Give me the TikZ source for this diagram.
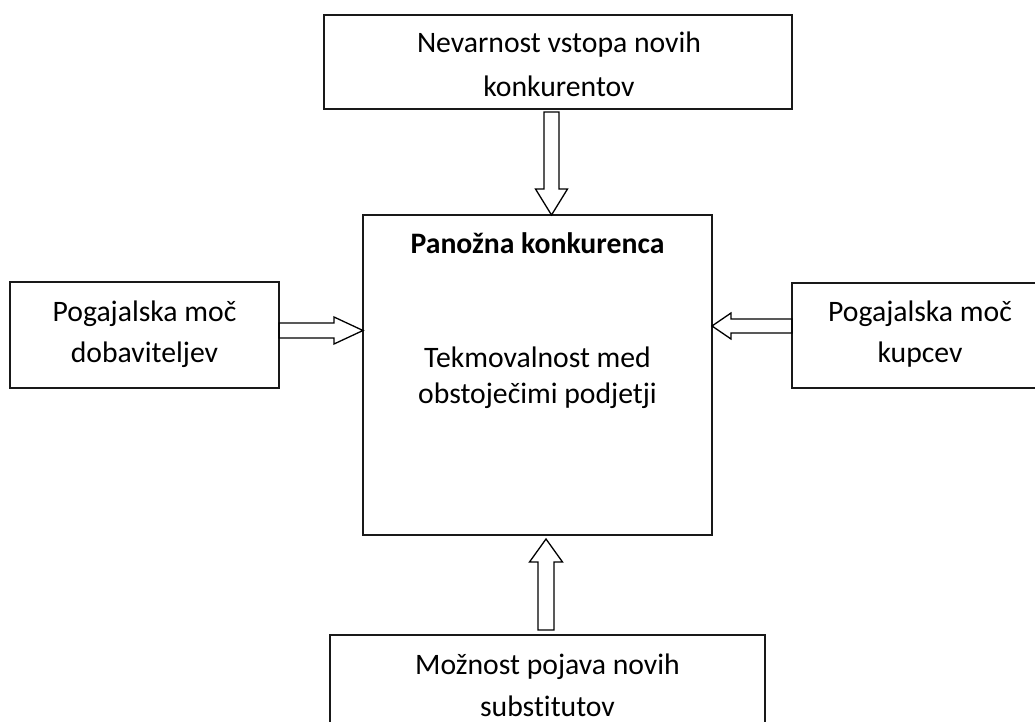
\documentclass[tikz,border=0pt]{standalone}
\usepackage{fontspec}
\setmainfont{Carlito}[Ligatures=NoCommon]
\usetikzlibrary{calc}
\tikzset{
  box/.style={draw=black!90, line width=1.6pt, rectangle, outer sep=0pt, inner sep=0pt},
  txt/.style={anchor=base, inner sep=0pt, font=\fontsize{29.7}{35}\selectfont},
  btxt/.style={anchor=base, inner sep=0pt, font=\fontsize{29.7}{35}\selectfont\bfseries},
  blockarrow/.style n args={3}{draw=black, line width=1.3pt, line join=miter, to path={
    ($(\tikztostart)!#1!90:(\tikztotarget)$)
    -- ($(\tikztotarget)!#3!(\tikztostart)!#1!-90:(\tikztostart)$)
    -- ($(\tikztotarget)!#3!(\tikztostart)!#2!-90:(\tikztostart)$)
    -- (\tikztotarget)
    -- ($(\tikztotarget)!#3!(\tikztostart)!#2!90:(\tikztostart)$)
    -- ($(\tikztotarget)!#3!(\tikztostart)!#1!90:(\tikztostart)$)
    -- ($(\tikztostart)!#1!-90:(\tikztotarget)$)
    -- cycle}}
}
\begin{document}
\begin{tikzpicture}[x=1pt, y=-1pt]
\useasboundingbox (0,0) rectangle (1035,722);
\clip (0,0) rectangle (1035,722);
\fill[white] (0,0) rectangle (1035,722);

% boxes
\node[box, minimum width=468pt, minimum height=94pt] (top) at (558,62) {};
\node[box, minimum width=349pt, minimum height=320pt] (center) at (537.5,375) {};
\node[box, minimum width=269pt, minimum height=106pt] (left) at (144.5,335) {};
\node[box, minimum width=256pt, minimum height=105pt] (right) at (920,335.5) {};
\node[box, minimum width=435pt, minimum height=94pt] (bottom) at (547.5,682) {};

% texts
\node[txt] (top1) at (559,53) {Nevarnost vstopa novih};
\node[txt] (top2) at (559,97) {konkurentov};
\node[btxt] (c0) at (537.5,253) {Panožna konkurenca};
\node[txt] (c1) at (537.5,367) {Tekmovalnost med};
\node[txt] (c2) at (537.5,403) {obstoječimi podjetji};
\node[txt] (l1) at (144.5,321) {Pogajalska moč};
\node[txt] (l2) at (144.5,362) {dobaviteljev};
\node[txt] (r1) at (920,321) {Pogajalska moč};
\node[txt] (r2) at (920,362) {kupcev};
\node[txt] (b1) at (547.5,674) {Možnost pojava novih};
\node[txt] (b2) at (547.5,716) {substitutov};

% block arrows
\draw[blockarrow={7.5pt}{16pt}{26pt}] ([xshift=-6.5pt,yshift=-3pt]top.south) to ([xshift=14pt]center.north);
\draw[blockarrow={7.5pt}{13.5pt}{29pt}] ([yshift=4.5pt]left.east) to ([yshift=44.5pt]center.west);
\draw[blockarrow={7pt}{13pt}{19pt}] ([yshift=9.5pt]right.west) to ([yshift=49pt]center.east);
\draw[blockarrow={8pt}{16.5pt}{23pt}] ([xshift=-1.5pt,yshift=5pt]bottom.north) to ([xshift=8.5pt,yshift=-4pt]center.south);
\end{tikzpicture}
\end{document}
